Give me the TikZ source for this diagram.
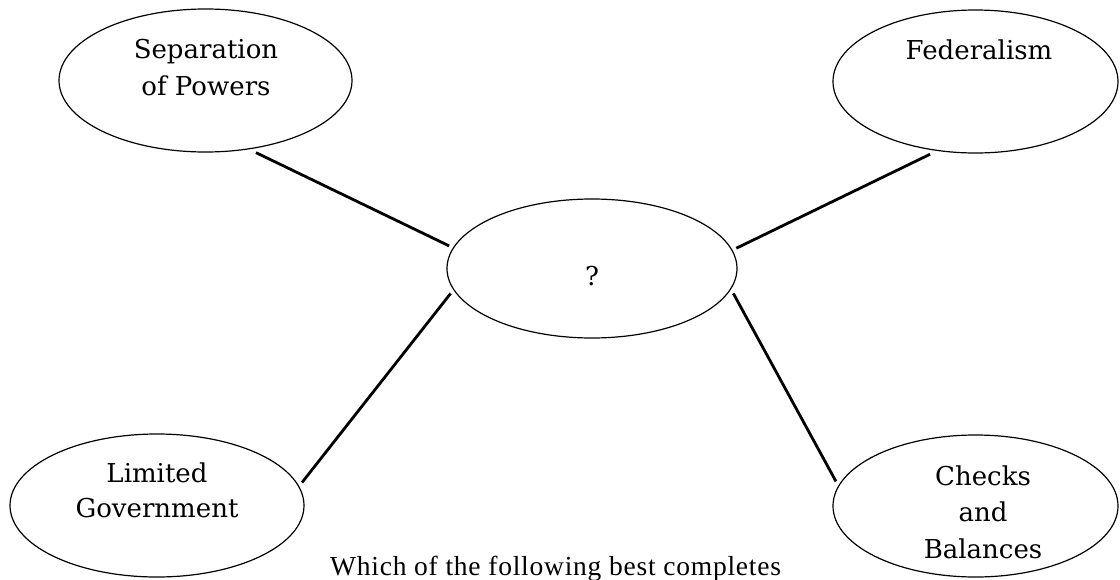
\documentclass[tikz,border=0pt]{standalone}
\usepackage{fontspec}
\setmainfont{Liberation Serif}
\newfontfamily\labelfont{DejaVu Serif}
\usetikzlibrary{shapes.geometric}
\tikzset{
  bubble/.style args={#1 by #2}{ellipse, draw=black, line width=1.2pt, fill=white,
    minimum width=#1pt, minimum height=#2pt, inner sep=0pt, outer sep=5pt},
  lbl/.style={anchor=base, inner sep=0pt, font=\labelfont\fontsize{26}{30}\selectfont},
  link/.style={draw=black, line width=2.8pt},
  caption/.style={anchor=base west, inner sep=0pt,
    font=\addfontfeature{LetterSpace=2.8}\fontsize{27.5}{30}\selectfont}
}
\begin{document}
\begin{tikzpicture}[x=1pt,y=-1pt]
\useasboundingbox[fill=white] (0,0) rectangle (1120,579);

% ellipses
\node[bubble=293 by 143] (sep) at (205.5,80.5) {};
\node[bubble=285 by 143] (fed) at (975.5,81.5) {};
\node[bubble=290 by 139] (q)   at (592,268.5) {};
\node[bubble=294 by 143] (lim) at (157,505.5) {};
\node[bubble=285 by 142] (chk) at (975.5,506) {};

% labels
\node[lbl] (sepA) at (206,58) {Separation};
\node[lbl] (sepB) at (206,95) {of Powers};
\node[lbl] (fedA) at (979,59) {Federalism};
\node[lbl] (qA)   at (592,285) {?};
\node[lbl] (limA) at (157,482) {Limited};
\node[lbl] (limB) at (157,517) {Government};
\node[lbl] (chkA) at (983,485) {Checks};
\node[lbl] (chkB) at (983,521.5) {and};
\node[lbl] (chkC) at (983,558) {Balances};

% connectors
\draw[link] (sep.-55.3) -- (q.171.5);
\draw[link] (fed.-122.5) -- (q.8.4);
\draw[link] (lim.9.1) -- (q.190.5);
\draw[link] (chk.170.8) -- (q.-10);

% caption
\node[caption] (cap) at (330,575) {Which of the following best completes};
\end{tikzpicture}
\end{document}
